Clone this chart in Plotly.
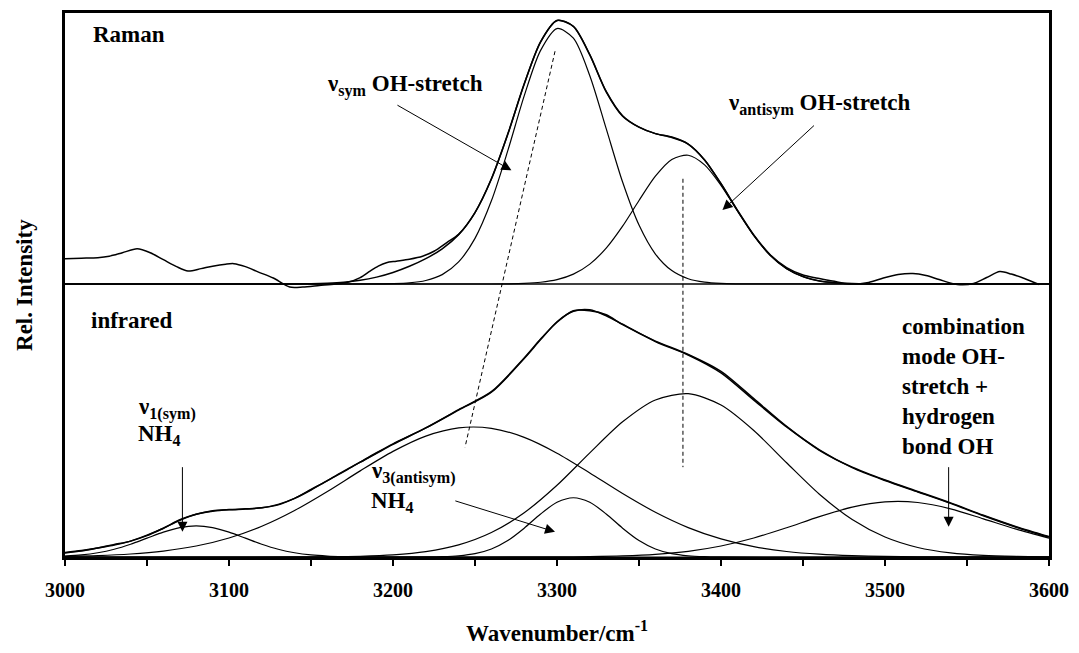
import plotly.graph_objects as go

# ---------------- data (relative intensity units) ----------------
# Infrared components
ir_nu1_x = [3000, 3010, 3020, 3030, 3040, 3050, 3060, 3070, 3080, 3090, 3100, 3110, 3120,
            3130, 3140, 3150, 3160, 3170, 3180, 3220, 3600]
ir_nu1_y = [0.18, 0.41, 0.85, 1.56, 2.57, 3.80, 5.01, 5.92, 6.26, 5.92, 5.01, 3.80, 2.57,
            1.56, 0.85, 0.41, 0.18, 0.07, 0.02, 0.0, 0.0]

ir_nu3b_x = [3000, 3020, 3040, 3060, 3080, 3100, 3120, 3140, 3160, 3180, 3200, 3220, 3240,
             3260, 3280, 3300, 3320, 3340, 3360, 3380, 3400, 3420, 3440, 3460, 3480, 3500,
             3520, 3540, 3560, 3580, 3600]
ir_nu3b_y = [0.12, 0.28, 0.60, 1.19, 2.21, 3.83, 6.20, 9.37, 13.20, 17.35, 21.28, 24.36, 26.02,
             25.93, 24.10, 20.92, 16.94, 12.79, 9.02, 5.93, 3.64, 2.08, 1.11, 0.56, 0.26, 0.11,
             0.05, 0.02, 0.01, 0.0, 0.0]

ir_oh_x = [3000, 3100, 3140, 3160, 3180, 3200, 3220, 3240, 3260, 3280, 3300, 3320, 3340, 3360,
           3380, 3400, 3420, 3440, 3460, 3480, 3500, 3520, 3540, 3560, 3580, 3600]
ir_oh_y = [0.0, 0.0, 0.01, 0.05, 0.15, 0.42, 1.07, 2.43, 4.92, 8.92, 14.46, 20.98, 27.24, 31.64,
           32.90, 30.61, 25.48, 18.98, 12.65, 7.55, 4.03, 1.92, 0.82, 0.31, 0.11, 0.03]

ir_nu3s_x = [3000, 3180, 3220, 3230, 3240, 3250, 3260, 3270, 3280, 3290, 3300, 3310, 3320, 3330,
             3340, 3350, 3360, 3370, 3380, 3390, 3400, 3440, 3600]
ir_nu3s_y = [0.0, 0.0, 0.02, 0.07, 0.24, 0.67, 1.62, 3.32, 5.81, 8.67, 11.02, 11.94, 11.02, 8.67,
             5.81, 3.32, 1.62, 0.67, 0.24, 0.07, 0.02, 0.0, 0.0]

ir_comb_x = [3000, 3200, 3280, 3300, 3320, 3340, 3360, 3380, 3400, 3420, 3440, 3460, 3480, 3500,
             3520, 3540, 3560, 3580, 3600]
ir_comb_y = [0.0, 0.0, 0.01, 0.03, 0.08, 0.22, 0.53, 1.15, 2.22, 3.82, 5.89, 8.13, 10.04, 11.10,
             10.98, 9.71, 7.69, 5.60, 3.80]

ir_fit_x = [3000, 3010, 3020, 3030, 3040, 3050, 3060, 3070, 3080, 3090, 3100, 3110, 3120, 3130,
            3140, 3150, 3160, 3170, 3180, 3190, 3200, 3220, 3240, 3260, 3280, 3290, 3300, 3310,
            3320, 3330, 3340, 3360, 3380, 3400, 3420, 3440, 3460, 3480, 3500, 3520, 3540, 3560,
            3580, 3600]
ir_fit_y = [0.8, 1.2, 1.8, 2.4, 3.2, 4.3, 5.8, 7.4, 8.6, 9.2, 9.5, 9.65, 9.9, 10.5,
            11.8, 13.5, 15.4, 17.2, 19.1, 20.9, 22.7, 26.0, 29.6, 33.2, 40.0, 43.8, 47.4, 49.5,
            49.8, 48.6, 46.9, 43.4, 40.7, 37.1, 31.6, 26.2, 21.6, 18.0, 15.4, 13.1, 10.8, 8.3,
            6.0, 4.0]
ir_meas_y = [0.9, 1.3, 1.8, 2.5, 3.2, 4.4, 5.8, 7.5, 8.6, 9.3, 9.55, 9.7, 9.9, 10.6,
             11.8, 13.6, 15.4, 17.3, 19.1, 21.0, 22.8, 26.0, 29.7, 33.3, 40.1, 43.9, 47.3, 49.6,
             49.6, 48.8, 46.8, 43.5, 40.8, 37.4, 31.9, 26.3, 21.5, 18.1, 15.5, 13.2, 10.9, 8.4,
             6.1, 4.1]

# Raman (intensity above its own baseline)
ram_sym_x = [3000, 3180, 3190, 3200, 3210, 3220, 3230, 3240, 3250, 3260, 3270, 3280, 3290, 3300,
             3310, 3320, 3330, 3340, 3350, 3360, 3370, 3380, 3390, 3400, 3410, 3420, 3600]
ram_sym_y = [0.0, 0.0, 0.02, 0.07, 0.23, 0.71, 1.89, 4.45, 9.20, 16.76, 26.86, 37.90, 47.07, 51.47,
             49.54, 41.97, 31.30, 20.54, 11.87, 6.04, 2.70, 1.06, 0.37, 0.11, 0.03, 0.01, 0.0]

ram_anti_x = [3000, 3260, 3270, 3280, 3290, 3300, 3310, 3320, 3330, 3340, 3350, 3360, 3370, 3380,
              3390, 3400, 3410, 3420, 3430, 3440, 3450, 3460, 3470, 3480, 3490, 3500, 3600]
ram_anti_y = [0.0, 0.0, 0.04, 0.13, 0.35, 0.88, 1.99, 4.01, 7.23, 11.66, 16.82, 21.72, 25.09, 25.94,
              24.00, 19.87, 14.72, 9.76, 5.79, 3.07, 1.46, 0.62, 0.24, 0.08, 0.02, 0.0, 0.0]

ram_fit_x = [3000, 3120, 3130, 3140, 3150, 3160, 3170, 3180, 3190, 3200, 3210, 3220, 3230, 3240,
             3250, 3260, 3270, 3280, 3290, 3300, 3310, 3320, 3330, 3340, 3350, 3360, 3370, 3380,
             3390, 3400, 3410, 3420, 3430, 3440, 3450, 3460, 3470, 3480, 3490, 3500, 3600]
ram_fit_y = [0.0, 0.0, 0.01, 0.02, 0.06, 0.16, 0.36, 0.74, 1.39, 2.33, 3.57, 5.11, 7.09, 9.95,
             14.40, 21.16, 30.20, 40.29, 48.79, 53.09, 51.89, 46.14, 38.7, 33.8, 31.6, 30.3, 29.5, 28.2,
             25.0, 20.2, 14.8, 9.8, 5.8, 3.1, 1.5, 0.6, 0.24, 0.08, 0.02, 0.0, 0.0]

ram_meas_x = [3000, 3010, 3020, 3027, 3035, 3044, 3052, 3060, 3068, 3075, 3083, 3090, 3098, 3103,
              3110, 3118, 3127, 3137, 3145, 3155, 3165, 3172, 3180, 3186, 3191, 3196, 3202, 3210,
              3218, 3225, 3233, 3240, 3250, 3260, 3270, 3280, 3290, 3300, 3310, 3320, 3330, 3340,
              3350, 3360, 3370, 3380, 3390, 3400, 3410, 3420, 3430, 3440, 3450, 3458, 3468, 3478,
              3490, 3499, 3508, 3517, 3525, 3533, 3544, 3554, 3562, 3570, 3577, 3585, 3594]
ram_meas_y = [5.1, 5.2, 5.3, 5.6, 6.3, 7.1, 6.3, 4.9, 3.5, 2.6, 3.1, 3.6, 4.0, 4.1,
              3.5, 2.4, 1.2, -0.6, -0.6, -0.3, 0.0, 0.3, 1.3, 2.6, 3.6, 4.3, 4.6, 5.0,
              5.6, 6.6, 8.4, 10.0, 14.4, 21.2, 30.2, 40.3, 48.8, 53.1, 51.9, 46.2, 38.8, 33.9,
              31.6, 30.3, 29.6, 28.2, 25.0, 20.2, 14.9, 9.9, 5.9, 3.3, 1.8, 1.2, 0.6, 0.0,
              0.3, 1.2, 1.9, 2.1, 1.7, 0.9, -0.1, 0.1, 1.3, 2.5, 2.0, 1.1, -0.1]

RAMAN_OFFSET = 55.0
X_TICKS = [3000, 3100, 3200, 3300, 3400, 3500, 3600]

# ---------------- figure ----------------
FONT = "Liberation Serif, Times New Roman, serif"
fig = go.Figure()


def add_line(x, y, width=1.0, offset=0.0):
    fig.add_trace(go.Scatter(
        x=x, y=[v + offset for v in y], mode="lines",
        line=dict(color="black", width=width, shape="spline", smoothing=0.8),
        hoverinfo="skip", showlegend=False))


# Raman baseline
fig.add_trace(go.Scatter(x=[3000, 3600], y=[RAMAN_OFFSET, RAMAN_OFFSET], mode="lines",
                         line=dict(color="black", width=1.3), hoverinfo="skip", showlegend=False))
add_line(ram_sym_x, ram_sym_y, 1.2, RAMAN_OFFSET)
add_line(ram_anti_x, ram_anti_y, 1.2, RAMAN_OFFSET)
add_line(ram_fit_x, ram_fit_y, 1.5, RAMAN_OFFSET)
add_line(ram_meas_x, ram_meas_y, 1.5, RAMAN_OFFSET)

add_line(ir_nu1_x, ir_nu1_y, 1.2)
add_line(ir_nu3b_x, ir_nu3b_y, 1.2)
add_line(ir_oh_x, ir_oh_y, 1.2)
add_line(ir_nu3s_x, ir_nu3s_y, 1.2)
add_line(ir_comb_x, ir_comb_y, 1.2)
add_line(ir_fit_x, ir_fit_y, 1.5)
add_line(ir_fit_x, ir_meas_y, 1.5)

# dashed guide lines
fig.add_shape(type="line", x0=3298.8, y0=101.9, x1=3243.9, y1=22.1, xref="x", yref="y",
              line=dict(color="black", width=1, dash="4px,3px"))
fig.add_shape(type="line", x0=3376.8, y0=76.2, x1=3376.8, y1=18.1, xref="x", yref="y",
              line=dict(color="black", width=1, dash="4px,3px"))

tfont = dict(family=FONT, size=23, color="black", weight="bold")


def label(x, y, text):
    fig.add_annotation(x=x, y=y, xref="x", yref="y", text=text, showarrow=False,
                       xanchor="left", yanchor="middle", align="left", font=tfont)


def arrow(x_head, y_head, x_tail, y_tail):
    fig.add_annotation(x=x_head, y=y_head, ax=x_tail, ay=y_tail, xref="x", yref="y",
                       axref="x", ayref="y", text="", showarrow=True, arrowhead=2,
                       arrowsize=2.0, arrowwidth=1, arrowcolor="black", standoff=0)


label(3015.9, 105.3, "Raman")
label(3014.6, 47.7, "infrared")
label(3158.5, 95.0, "ν<sub>sym</sub> OH-stretch")
label(3403.0, 91.2, "ν<sub>antisym</sub> OH-stretch")
label(3043.3, 30.0, "ν<sub>1(sym)</sub>")
label(3043.3, 24.5, "NH<sub>4</sub>")
label(3185.4, 17.0, "ν<sub>3(antisym)</sub>")
label(3185.4, 11.1, "NH<sub>4</sub>")
label(3509.0, 34.3, "combination<br>mode OH-<br>stretch +<br>hydrogen<br>bond OH")

arrow(3272.2, 77.9, 3201.8, 91.2)
arrow(3400.9, 69.9, 3457.6, 87.2)
arrow(3071.6, 5.07, 3071.6, 18.4)
arrow(3298.8, 5.07, 3237.1, 11.4)
arrow(3538.8, 6.07, 3538.8, 18.4)

# axis titles
fig.add_annotation(x=-0.0417, y=0.5, xref="paper", yref="paper", text="Rel. Intensity",
                   textangle=-90, showarrow=False, xanchor="center", yanchor="middle",
                   font=tfont)
fig.add_annotation(x=0.5, y=-0.137, xref="paper", yref="paper",
                   text="Wavenumber/cm<sup>-1</sup>", showarrow=False,
                   xanchor="center", yanchor="middle", font=tfont)

# the page body adds an 8 px margin, so the figure is sized to fill the rest of the window
fig.update_layout(
    width=1071, height=645,
    margin=dict(l=57, r=30, t=2, b=96),
    paper_bgcolor="white", plot_bgcolor="white",
    font=dict(family=FONT, color="black"),
    showlegend=False,
)
fig.update_xaxes(
    range=[3000, 3600], tickvals=X_TICKS, ticktext=[str(v) for v in X_TICKS],
    ticks="outside", ticklen=6, tickwidth=2, tickcolor="black", ticklabelstandoff=7,
    minor=dict(dtick=50, tick0=3000, ticks="outside", ticklen=6, tickwidth=2,
               tickcolor="black", showgrid=False),
    showline=True, linewidth=2.5, linecolor="black", mirror=True,
    showgrid=False, zeroline=False,
    tickfont=dict(family=FONT, size=20, color="black", weight="bold"),
)
fig.update_yaxes(
    range=[0, 109.6], showticklabels=False, ticks="",
    showline=True, linewidth=2.5, linecolor="black", mirror=True,
    showgrid=False, zeroline=False,
)

fig.write_html("out.html")
